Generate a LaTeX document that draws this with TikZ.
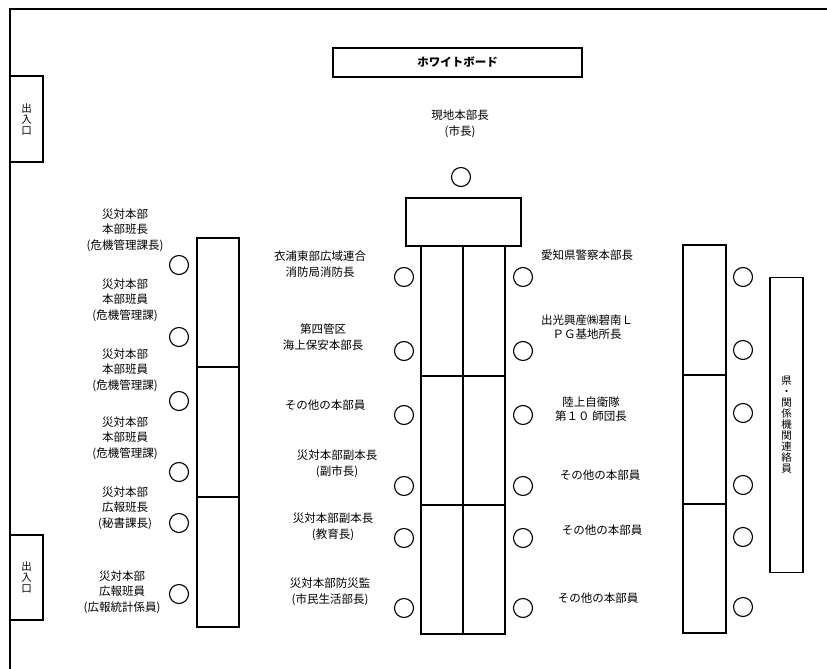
\documentclass[tikz,border=0pt]{standalone}
\usepackage{fontspec}
\setmainfont{Noto Sans CJK JP}
\usetikzlibrary{positioning}

\begin{document}
\begin{tikzpicture}[x=1pt, y=-1pt,
    desk/.style={draw, line width=1.1pt},
    seat/.style={circle, draw, line width=1.1pt, minimum size=19pt, inner sep=0pt},
    lbl/.style={align=center, inner sep=0pt, font=\fontsize{11.5}{15.5}\selectfont},
    vlbl/.style={align=center, inner sep=0pt, font=\fontsize{10.5}{11}\selectfont}]

    \useasboundingbox (0,0) rectangle (827,669);

    % Room walls
    \draw[line width=1.4pt] (10,669) -- (10,9) -- (827,9);

    % Doors and whiteboard
    \node[desk, vlbl, fill=white, minimum width=33pt, minimum height=86pt] (door1) at (26.5,119) {出\\入\\口};
    \node[desk, vlbl, fill=white, minimum width=33pt, minimum height=85pt] (door2) at (26.5,577.5) {出\\入\\口};
    \node[desk, minimum width=249pt, minimum height=29pt, font=\fontsize{11.5}{12}\selectfont\bfseries] (board) at (457.5,62.5) {ホワイトボード};

    % Tables
    \draw[desk] (406,198) rectangle (521,246);
    \draw[desk] (421,246) rectangle (505,634);
    \draw[desk] (463,246) -- (463,634);
    \draw[desk] (421,376) -- (505,376);
    \draw[desk] (421,505) -- (505,505);

    \draw[desk] (197,238) rectangle (239,627);
    \draw[desk] (197,367) -- (239,367);
    \draw[desk] (197,497) -- (239,497);

    \draw[desk] (683,245) rectangle (726,633);
    \draw[desk] (683,375) -- (726,375);
    \draw[desk] (683,504) -- (726,504);

    \node[desk, vlbl, minimum width=33pt, minimum height=295pt] (liaison) at (786.5,425)
        {県\\・\\関\\係\\機\\関\\連\\絡\\員};

    % Seats
    \node[seat] (chief) at (461,177) {};
    \foreach \y [count=\i] in {265,337,401,472,523,594}
        \node[seat] (L\i) at (179,\y) {};
    \foreach \y [count=\i] in {277,351,415,486,538,608}
        \node[seat] (CL\i) at (404,\y) {};
    \foreach \y [count=\i] in {277,351,415,486,538,608}
        \node[seat] (CR\i) at (523,\y) {};
    \foreach \y [count=\i] in {277,350,413,485,537,607}
        \node[seat] (R\i) at (743,\y) {};

    % Labels
    \node[lbl] (chiefname) at (460,124) {現地本部長\\(市長)};

    \node[lbl] (lname1) at (125,230) {災対本部\\本部班長\\(危機管理課長)};
    \node[lbl] (lname2) at (125,300) {災対本部\\本部班員\\(危機管理課)};
    \node[lbl] (lname3) at (125,370) {災対本部\\本部班員\\(危機管理課)};
    \node[lbl] (lname4) at (125,438) {災対本部\\本部班員\\(危機管理課)};
    \node[lbl] (lname5) at (125,508) {災対本部\\広報班長\\(秘書課長)};
    \node[lbl] (lname6) at (122,592) {災対本部\\広報班員\\(広報統計係員)};

    \node[lbl] (clname1) at (320,264) {衣浦東部広域連合\\消防局消防長};
    \node[lbl] (clname2) at (323,337) {第四管区\\海上保安本部長};
    \node[lbl] (clname3) at (325,405) {その他の本部員};
    \node[lbl] (clname4) at (337,464) {災対本部副本長\\(副市長)};
    \node[lbl] (clname5) at (333,527) {災対本部副本長\\(教育長)};
    \node[lbl] (clname6) at (330,592) {災対本部防災監\\(市民生活部長)};

    \node[lbl] (crname1) at (587,255) {愛知県警察本部長};
    \node[lbl, font=\fontsize{11.5}{14}\selectfont] (crname2) at (587,327) {出光興産㈱碧南Ｌ\\ＰＧ基地所長};
    \node[lbl, font=\fontsize{11.5}{14}\selectfont] (crname3) at (591,409) {陸上自衛隊\\第１０ 師団長};
    \node[lbl] (crname4) at (600,475) {その他の本部員};
    \node[lbl] (crname5) at (602,530) {その他の本部員};
    \node[lbl] (crname6) at (598,598) {その他の本部員};
\end{tikzpicture}
\end{document}
